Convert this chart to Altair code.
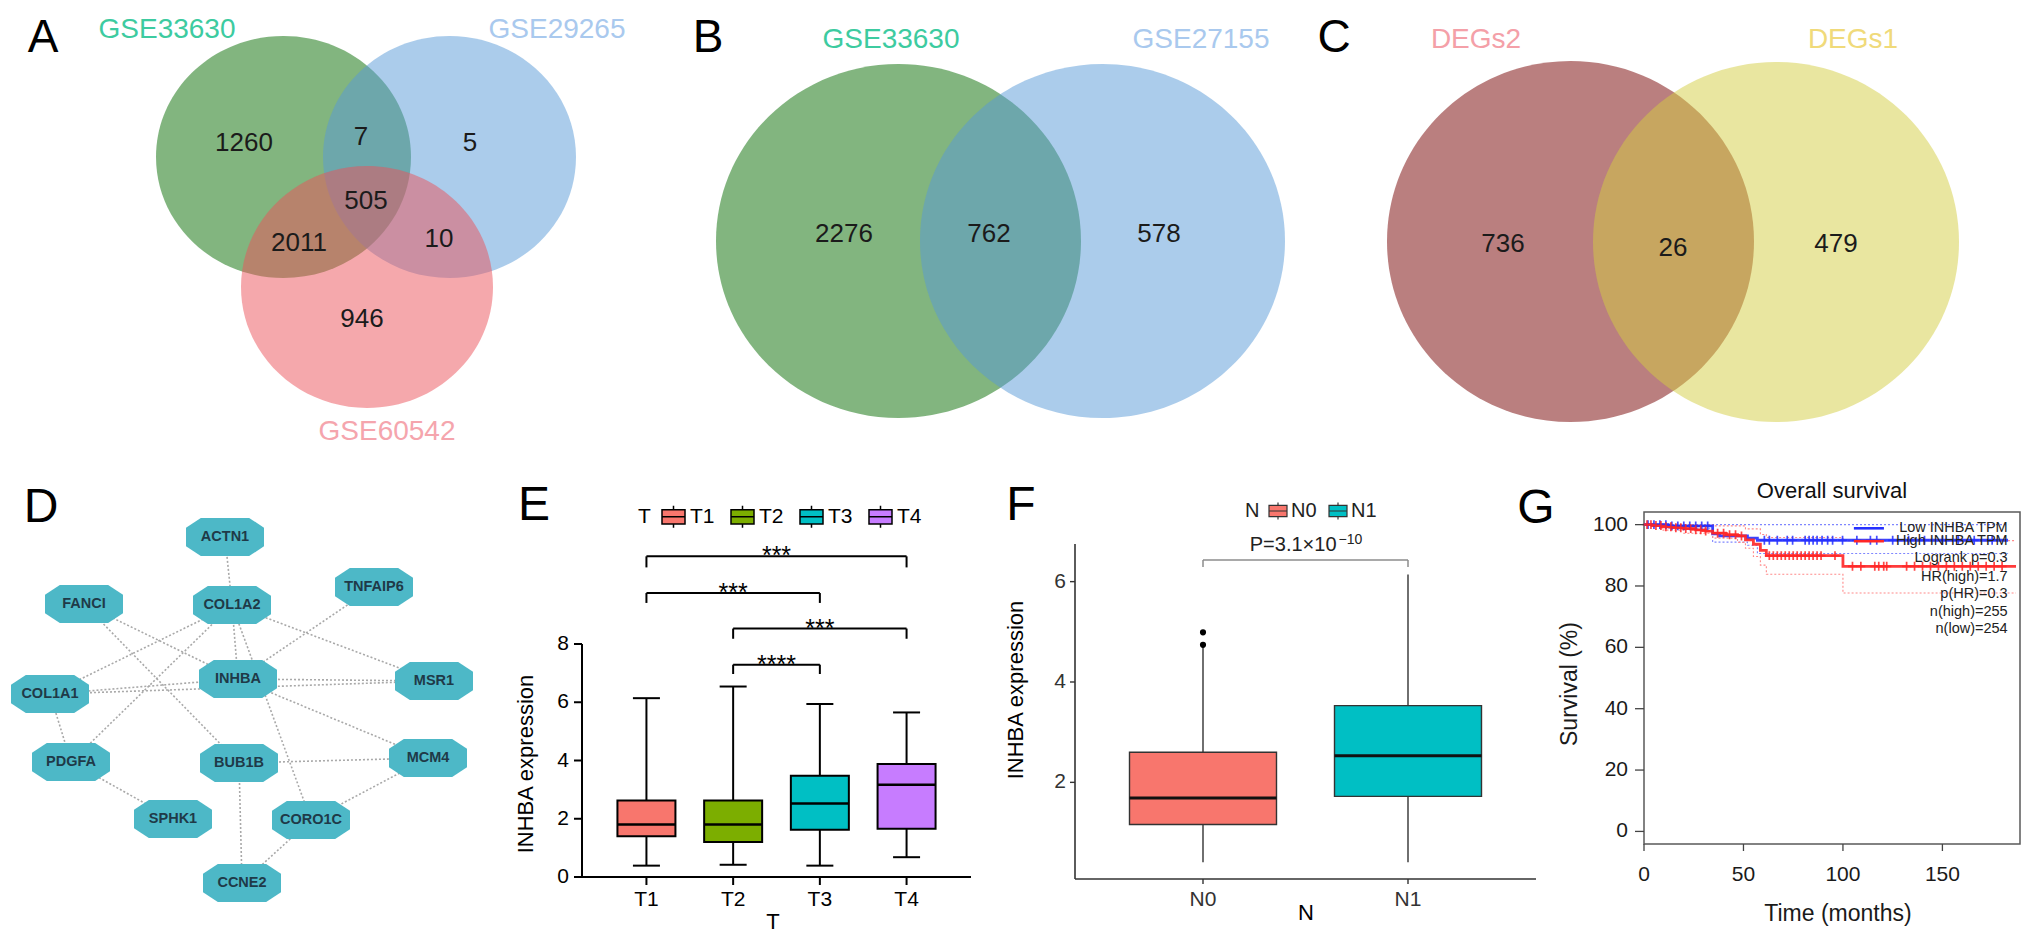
import altair as alt
import pandas as pd

FONT = "Liberation Sans"

# ======================= DATA =======================
# A: three-set Venn (regions: 33630 only, 33630&29265, 29265 only, all three,
#    33630&60542, 29265&60542, 60542 only)
A_sets = ["GSE33630", "GSE29265", "GSE60542"]
A_counts = [1260, 7, 5, 505, 2011, 10, 946]
# B: two-set Venn (left only, both, right only)
B_sets = ["GSE33630", "GSE27155"]
B_counts = [2276, 762, 578]
# C: two-set Venn
C_sets = ["DEGs2", "DEGs1"]
C_counts = [736, 26, 479]

# D: PPI network
D_genes = ["ACTN1", "TNFAIP6", "FANCI", "COL1A2", "INHBA", "MSR1", "COL1A1",
           "PDGFA", "BUB1B", "MCM4", "SPHK1", "CORO1C", "CCNE2"]
D_edge_a = ["ACTN1", "FANCI", "FANCI", "COL1A2", "COL1A2", "COL1A2", "COL1A2", "COL1A2",
            "TNFAIP6", "INHBA", "INHBA", "INHBA", "COL1A1", "PDGFA", "BUB1B", "BUB1B",
            "MCM4", "CORO1C", "COL1A1"]
D_edge_b = ["COL1A2", "INHBA", "BUB1B", "COL1A1", "PDGFA", "INHBA", "CORO1C", "MSR1",
            "INHBA", "COL1A1", "MSR1", "MCM4", "PDGFA", "SPHK1", "MCM4", "CCNE2",
            "CORO1C", "CCNE2", "MSR1"]

# E: INHBA expression by T stage (box statistics)
E_groups = ["T1", "T2", "T3", "T4"]
E_lower = [0.39, 0.42, 0.39, 0.68]
E_q1 = [1.40, 1.20, 1.62, 1.66]
E_median = [1.80, 1.80, 2.52, 3.17]
E_q3 = [2.63, 2.63, 3.48, 3.88]
E_upper = [6.14, 6.54, 5.94, 5.65]
E_colors = ["#F8766D", "#7CAE00", "#00BFC4", "#C77CFF"]
E_cmp_a = ["T1", "T1", "T2", "T2"]
E_cmp_b = ["T4", "T3", "T4", "T3"]
E_cmp_label = ["***", "***", "***", "****"]
E_cmp_top = [11.01, 9.75, 8.53, 7.29]
E_cmp_leg = [10.63, 9.41, 8.18, 6.97]
E_yticks = [0, 2, 4, 6, 8]

# F: INHBA expression by N stage
F_groups = ["N0", "N1"]
F_lower = [0.41, 0.41]
F_q1 = [1.16, 1.72]
F_median = [1.69, 2.53]
F_q3 = [2.60, 3.53]
F_upper = [4.69, 6.14]
F_colors = ["#F8766D", "#00BFC4"]
F_out_group = ["N0", "N0"]
F_out_value = [4.74, 4.99]
F_cmp_top = 6.43
F_cmp_leg = 6.29
F_p_text = "P=3.1×10"
F_p_exp = "−10"
F_p_y = 6.74
F_yticks = [2, 4, 6]

# G: Kaplan-Meier overall survival
G_low_t = [0, 12, 34.5, 38, 52, 57, 183]
G_low_s = [100, 99.6, 97.0, 96.3, 95.6, 94.9, 94.9]
G_high_t = [0, 4, 9, 14, 20, 26, 31, 34.5, 41, 47, 51, 55, 58.5, 61.5, 100, 187]
G_high_s = [100, 99.7, 99.3, 99.0, 98.7, 98.3, 97.9, 97.2, 96.7, 96.3, 95.0, 93.6, 91.6, 89.9, 86.4, 86.4]
G_low_lo_t = [0, 12, 34.5, 52, 57, 183]
G_low_lo_s = [100, 98.8, 94.3, 93.3, 90.6, 90.6]
G_low_hi_t = [0, 183]
G_low_hi_s = [100, 100]
G_high_lo_t = [0, 9, 20, 34.5, 47, 51, 55, 58.5, 61.5, 100, 187]
G_high_lo_s = [100, 98.2, 97.2, 95.6, 94.2, 92.3, 89.6, 86.8, 83.8, 77.7, 77.7]
G_high_hi_t = [0, 34.5, 51, 58.5, 61.5, 100, 187]
G_high_hi_s = [100, 99.6, 98.6, 96.8, 95.8, 94.8, 94.8]
G_low_cens = [2, 5, 8, 11, 14, 17, 20, 23, 26, 29, 32, 60.5, 63, 67, 72, 74.7, 81, 83, 85,
              87, 89.5, 92.3, 94.8, 99.8, 107, 113.8, 117, 125, 133, 141, 150, 158, 166, 175]
G_high_cens = [1.5, 3.5, 6, 8.5, 11, 13.5, 16, 18.5, 21, 23.5, 26, 28.5, 31, 37, 40, 43, 46,
               49, 63, 65, 67, 69, 71, 73, 75, 77, 79, 81, 83, 85, 87, 89, 96, 104.8, 109,
               116, 118, 120.5, 122, 132, 136, 140, 144, 148, 152, 156, 160, 164, 168, 172,
               176, 180]
G_series = ["Low INHBA TPM", "High INHBA TPM"]
G_stats = ["Logrank p=0.3", "HR(high)=1.7", "p(HR)=0.3", "n(high)=255", "n(low)=254"]
G_title = "Overall survival"
G_xticks = [0, 50, 100, 150]
G_yticks = [0, 20, 40, 60, 80, 100]

# ======================= LAYOUT (page pixels) =======================
# shared column boundaries for both rows (page x)
COLS = [8, 581, 970, 1074, 1535, 1643, 2019]
TOP_Y0, TOP_Y1 = 8, 448

A_cx, A_cy = [282.5, 448.5, 366], [156, 156, 286]
A_rx, A_ry = [127.5, 126.5, 126], [121, 121, 121]
A_fill = ["#056B00", "#5799D7", "#EB5159"]
A_lab_x, A_lab_y = [166, 556, 386], [29, 29, 431]
A_lab_col = ["#3DCBA0", "#A9C9EE", "#F5A5AD"]
A_cnt_x = [243, 360, 469, 365, 298, 438, 361]
A_cnt_y = [142, 136, 142, 200, 242, 238, 318]
A_letter = (42, 37)

B_cx, B_cy = [897.5, 1101.5], [240, 240]
B_rx, B_ry = [182.5, 182.5], [177, 177]
B_fill = ["#056B00", "#5799D7"]
B_lab_x, B_lab_y = [890, 1200], [39, 39]
B_lab_col = ["#3DCBA0", "#A9C9EE"]
B_cnt_x, B_cnt_y = [843, 988, 1158], [233, 233, 233]
B_letter = (707, 37)

C_cx, C_cy = [1569.5, 1775], [240.5, 241]
C_rx, C_ry = [183.5, 183], [180.5, 180]
C_fill = ["#760000", "#D3CD41"]
C_lab_x, C_lab_y = [1475, 1852], [39, 39]
C_lab_col = ["#F4A0A8", "#F0DA7A"]
C_cnt_x, C_cnt_y = [1502, 1672, 1835], [243, 247, 243]
C_letter = (1333, 37)
TOP_LETTER_SIZE = 46

D_y = (448, 936)
D_node_x = [224, 373, 83, 231, 237, 433, 49, 70, 238, 427, 172, 310, 241]
D_node_y = [536, 586, 603, 604, 678, 680, 693, 761, 762, 757, 818, 819, 882]
D_letter = (40, 507)

E_H, E_PX = 428, 29.125
F_H, F_PX, F_YMIN, F_YTOP = 430, 50.18, 0.074, 6.75
G_H, G_PX, G_YMIN, G_YTOP, G_XMAX = 395, 3.068, -4.1, 104.1, 189
G_title_y = 111.0
W = [COLS[i + 1] - COLS[i] for i in range(6)]
E_W, F_W, G_W = W[1], W[3], W[5]

# ======================= HELPERS =======================
def S(domain, reverse=False):
    return alt.Scale(domain=list(domain), nice=False, zero=False, reverse=reverse)


def ellipse(k):
    return f"M-1,0A1,{k:.4f} 0 1,1 1,0A1,{k:.4f} 0 1,1 -1,0Z"


OCTAGON = "M-1,-0.24L-0.62,-0.49L0.62,-0.49L1,-0.24L1,0.24L0.62,0.49L-0.62,0.49L-1,0.24Z"
BOXGLYPH = "M-1,-0.62H1V0.62H-1Z M-1,0H1 M0,-0.62V-0.95 M0,0.62V0.95"
PLUS = "M0,-1V1M-1,0H1"


def spacer(w, h):
    return alt.Chart(pd.DataFrame({"v": [0]})).mark_point(opacity=0).encode(
        x=alt.X("v:Q", axis=None), y=alt.Y("v:Q", axis=None)).properties(width=w, height=h)


def text_at(txt, x, y, size=48, color="black", angle=0):
    return alt.Chart(pd.DataFrame({"t": [txt]})).mark_text(
        font=FONT, fontSize=size, color=color, baseline="middle", align="center", angle=angle
    ).encode(x=alt.value(x), y=alt.value(y), text="t:N")


def left_axis(values, labels, ys, tick, label_x, color, width, lab_color, size=21):
    df = pd.DataFrame({"v": values, "lab": labels})
    Y = alt.Y("v:Q", scale=ys, axis=None)
    ticks = alt.Chart(df).mark_rule(color=color, strokeWidth=width).encode(
        x=alt.value(0), x2=alt.value(-tick), y=Y)
    labs = alt.Chart(df).mark_text(font=FONT, fontSize=size, color=lab_color, align="right",
                                   baseline="middle").encode(x=alt.value(label_x), y=Y, text="lab:N")
    return [ticks, labs]


def bottom_axis(values, labels, xs, h, tick, label_y, color, width, lab_color, size=21):
    df = pd.DataFrame({"v": values, "lab": labels})
    X = alt.X("v:Q", scale=xs, axis=None)
    ticks = alt.Chart(df).mark_rule(color=color, strokeWidth=width).encode(
        x=X, y=alt.value(h), y2=alt.value(h + tick))
    labs = alt.Chart(df).mark_text(font=FONT, fontSize=size, color=lab_color, align="center",
                                   baseline="top").encode(x=X, y=alt.value(label_y), text="lab:N")
    return [ticks, labs]


def venn(c0, c1, cx, cy, rx, ry, fills, names, lx, ly, lcol, counts, nx, ny, letter, lxy):
    xs, ys = S((c0, c1)), S((TOP_Y0, TOP_Y1), True)
    X = lambda f: alt.X(f, scale=xs, axis=None)
    Y = lambda f: alt.Y(f, scale=ys, axis=None)
    cdf = pd.DataFrame({"cx": cx, "cy": cy, "sz": [(2 * r) ** 2 for r in rx],
                        "shp": [ellipse(b / a) for a, b in zip(rx, ry)],
                        "fill": fills, "o": list(range(len(cx)))})
    circles = alt.Chart(cdf).mark_point(filled=True, opacity=0.5, strokeWidth=0).encode(
        x=X("cx:Q"), y=Y("cy:Q"),
        size=alt.Size("sz:Q", scale=None, legend=None),
        shape=alt.Shape("shp:N", scale=None, legend=None),
        color=alt.Color("fill:N", scale=None, legend=None),
        order=alt.Order("o:Q"))
    ldf = pd.DataFrame({"x": lx, "y": ly, "t": names, "c": lcol})
    labels = alt.Chart(ldf).mark_text(font=FONT, fontSize=28, baseline="middle").encode(
        x=X("x:Q"), y=Y("y:Q"), text="t:N", color=alt.Color("c:N", scale=None, legend=None))
    ndf = pd.DataFrame({"x": nx, "y": ny, "t": [str(c) for c in counts]})
    nums = alt.Chart(ndf).mark_text(font=FONT, fontSize=26, color="#1b1b1b", baseline="middle").encode(
        x=X("x:Q"), y=Y("y:Q"), text="t:N")
    let = alt.Chart(pd.DataFrame({"x": [lxy[0]], "y": [lxy[1]], "t": [letter]})).mark_text(
        font=FONT, fontSize=TOP_LETTER_SIZE, color="black", baseline="middle").encode(
        x=X("x:Q"), y=Y("y:Q"), text="t:N")
    return alt.layer(circles, labels, nums, let).properties(width=c1 - c0, height=TOP_Y1 - TOP_Y0)


RES = dict(color="independent", size="independent", shape="independent")

# ======================= TOP ROW =======================
A = venn(COLS[0], COLS[1], A_cx, A_cy, A_rx, A_ry, A_fill, A_sets, A_lab_x, A_lab_y, A_lab_col,
         A_counts, A_cnt_x, A_cnt_y, "A", A_letter)
B = venn(COLS[1], COLS[2], B_cx, B_cy, B_rx, B_ry, B_fill, B_sets, B_lab_x, B_lab_y, B_lab_col,
         B_counts, B_cnt_x, B_cnt_y, "B", B_letter)
C = venn(COLS[2], COLS[3], C_cx, C_cy, C_rx, C_ry, C_fill, C_sets, C_lab_x, C_lab_y, C_lab_col,
         C_counts, C_cnt_x, C_cnt_y, "C", C_letter)

# ======================= D: network =======================
xsD, ysD = S((COLS[0], COLS[1])), S(D_y, True)
pos = dict(zip(D_genes, zip(D_node_x, D_node_y)))
edf_D = pd.DataFrame({
    "x": [pos[a][0] for a in D_edge_a], "y": [pos[a][1] for a in D_edge_a],
    "x2": [pos[b][0] for b in D_edge_b], "y2": [pos[b][1] for b in D_edge_b]})
ndf_D = pd.DataFrame({"gene": D_genes, "x": D_node_x, "y": D_node_y})
XD = lambda f: alt.X(f, scale=xsD, axis=None)
YD = lambda f: alt.Y(f, scale=ysD, axis=None)
D_edges = alt.Chart(edf_D).mark_rule(color="#A9A9A9", strokeWidth=1.6, strokeDash=[2, 2]).encode(
    x=XD("x:Q"), y=YD("y:Q"), x2="x2:Q", y2="y2:Q")
D_nodes = alt.Chart(ndf_D).mark_point(shape=OCTAGON, size=78 ** 2, filled=True, color="#4DB8C7",
                                      opacity=1, strokeWidth=0).encode(x=XD("x:Q"), y=YD("y:Q"))
D_text = alt.Chart(ndf_D).mark_text(font=FONT, fontSize=14.5, fontWeight="bold", color="#1F3A48").encode(
    x=XD("x:Q"), y=YD("y:Q"), text="gene:N")
D_let = alt.Chart(pd.DataFrame({"x": [D_letter[0]], "y": [D_letter[1]], "t": ["D"]})).mark_text(
    font=FONT, fontSize=48, color="black", baseline="middle").encode(x=XD("x:Q"), y=YD("y:Q"), text="t:N")
D = alt.layer(D_edges, D_nodes, D_text, D_let).properties(width=W[0], height=D_y[1] - D_y[0])

# ======================= E: boxplot by T =======================
xsE = S((1 - 61 / 89, 1 + (E_W - 61) / 89))
ysE = S((0, E_H / E_PX))
idx = {g: i + 1 for i, g in enumerate(E_groups)}
edf = pd.DataFrame({"grp": E_groups, "pos": [idx[g] for g in E_groups], "lo": E_lower,
                    "q1": E_q1, "med": E_median, "q3": E_q3, "hi": E_upper})
E_legend = alt.Legend(title="T", orient="none", legendX=56, legendY=55, direction="horizontal",
                      titleOrient="left", symbolType=BOXGLYPH, symbolSize=529,
                      symbolStrokeColor="black", symbolStrokeWidth=1.5, symbolOpacity=1,
                      labelFont=FONT, titleFont=FONT, labelFontSize=21, titleFontSize=21,
                      titleFontWeight="normal", labelColor="black", titleColor="black",
                      columnPadding=13, labelOffset=4, titlePadding=10, titleBaseline="middle")
XE = lambda f="pos:Q": alt.X(f, scale=xsE, axis=None)
YE = lambda f: alt.Y(f, scale=ysE, axis=None)
bE = alt.Chart(edf)
E_wl = bE.mark_rule(color="black", strokeWidth=2).encode(x=XE(), y=YE("lo:Q"), y2="q1:Q")
E_wh = bE.mark_rule(color="black", strokeWidth=2).encode(x=XE(), y=YE("q3:Q"), y2="hi:Q")
E_cl = bE.mark_tick(orient="horizontal", size=27, thickness=2, color="black", opacity=1).encode(x=XE(), y=YE("lo:Q"))
E_ch = bE.mark_tick(orient="horizontal", size=27, thickness=2, color="black", opacity=1).encode(x=XE(), y=YE("hi:Q"))
E_box = bE.mark_bar(size=58, stroke="black", strokeWidth=2, opacity=1).encode(
    x=XE(), y=YE("q1:Q"), y2="q3:Q",
    color=alt.Color("grp:N", scale=alt.Scale(domain=E_groups, range=E_colors), legend=E_legend))
E_med = bE.mark_tick(orient="horizontal", size=58, thickness=2.5, color="black", opacity=1).encode(
    x=XE(), y=YE("med:Q"))
brdf = pd.DataFrame({"x1": [idx[a] for a in E_cmp_a], "x2": [idx[b] for b in E_cmp_b],
                     "top": E_cmp_top, "leg": E_cmp_leg, "lab": E_cmp_label})
brdf["mid"] = (brdf["x1"] + brdf["x2"]) / 2
bB = alt.Chart(brdf)
E_bh = bB.mark_rule(color="black", strokeWidth=2).encode(x=XE("x1:Q"), x2="x2:Q", y=YE("top:Q"))
E_bl = bB.mark_rule(color="black", strokeWidth=2).encode(x=XE("x1:Q"), y=YE("leg:Q"), y2="top:Q")
E_br = bB.mark_rule(color="black", strokeWidth=2).encode(x=XE("x2:Q"), y=YE("leg:Q"), y2="top:Q")
E_st = bB.mark_text(font=FONT, fontSize=25, color="black", baseline="alphabetic", dy=8).encode(
    x=XE("mid:Q"), y=YE("top:Q"), text="lab:N")
E_ax = pd.DataFrame({"a": [E_yticks[0]], "b": [E_yticks[-1]]})
E_yline = alt.Chart(E_ax).mark_rule(color="black", strokeWidth=2).encode(x=alt.value(0), y=YE("a:Q"), y2="b:Q")
E_xline = alt.Chart(E_ax).mark_rule(color="black", strokeWidth=2).encode(x=alt.value(0), x2=alt.value(E_W), y=YE("a:Q"))
E_axes = (left_axis(E_yticks, [str(v) for v in E_yticks], ysE, 8, -13, "black", 2, "black")
          + bottom_axis([1, 2, 3, 4], E_groups, xsE, E_H, 8, E_H + 12, "black", 2, "black"))
E = alt.layer(E_wl, E_wh, E_cl, E_ch, E_box, E_med, E_bh, E_bl, E_br, E_st, E_yline, E_xline,
              *E_axes, text_at("INHBA expression", -56, 315, 22, "black", 270),
              text_at("T", 191, 473, 22, "black"),
              text_at("E", -48, 57)).properties(width=E_W, height=E_H)

# ======================= F: boxplot by N =======================
xsF = S((0.4, 2.6))
ysF = S((F_YMIN, F_YMIN + F_H / F_PX))
fidx = {g: i + 1 for i, g in enumerate(F_groups)}
fdf = pd.DataFrame({"grp": F_groups, "pos": [fidx[g] for g in F_groups], "lo": F_lower,
                    "q1": F_q1, "med": F_median, "q3": F_q3, "hi": F_upper})
F_legend = alt.Legend(title="N", orient="none", legendX=170, legendY=52, direction="horizontal",
                      titleOrient="left", symbolType=BOXGLYPH, symbolSize=324,
                      symbolStrokeColor="#333333", symbolStrokeWidth=1.2, symbolOpacity=1,
                      labelFont=FONT, titleFont=FONT, labelFontSize=20, titleFontSize=20,
                      titleFontWeight="normal", labelColor="#222222", titleColor="#222222",
                      columnPadding=9, labelOffset=3, titlePadding=8, titleBaseline="middle")
XF = lambda f="pos:Q": alt.X(f, scale=xsF, axis=None)
YF = lambda f: alt.Y(f, scale=ysF, axis=None)
bF = alt.Chart(fdf)
F_w = bF.mark_rule(color="#333333", strokeWidth=1.4).encode(x=XF(), y=YF("lo:Q"), y2="hi:Q")
F_box = bF.mark_bar(size=147, stroke="#333333", strokeWidth=1.4, opacity=1).encode(
    x=XF(), y=YF("q1:Q"), y2="q3:Q",
    color=alt.Color("grp:N", scale=alt.Scale(domain=F_groups, range=F_colors), legend=F_legend))
F_med = bF.mark_tick(orient="horizontal", size=147, thickness=3, color="#111111", opacity=1).encode(
    x=XF(), y=YF("med:Q"))
odf = pd.DataFrame({"pos": [fidx[g] for g in F_out_group], "v": F_out_value})
F_out = alt.Chart(odf).mark_circle(size=38, color="black", opacity=1).encode(x=XF(), y=YF("v:Q"))
fbr = pd.DataFrame({"x1": [1], "x2": [2], "top": [F_cmp_top], "leg": [F_cmp_leg],
                    "mid": [1.5], "py": [F_p_y], "t": [F_p_text], "e": [F_p_exp],
                    "a0": [F_YMIN], "a1": [F_YTOP]})
bFB = alt.Chart(fbr)
F_bh = bFB.mark_rule(color="#8c8c8c", strokeWidth=1.5).encode(x=XF("x1:Q"), x2="x2:Q", y=YF("top:Q"))
F_bl = bFB.mark_rule(color="#8c8c8c", strokeWidth=1.5).encode(x=XF("x1:Q"), y=YF("leg:Q"), y2="top:Q")
F_br = bFB.mark_rule(color="#8c8c8c", strokeWidth=1.5).encode(x=XF("x2:Q"), y=YF("leg:Q"), y2="top:Q")
F_pt = bFB.mark_text(font=FONT, fontSize=20, color="#222222", align="right", baseline="middle", dx=31).encode(
    x=XF("mid:Q"), y=YF("py:Q"), text="t:N")
F_pe = bFB.mark_text(font=FONT, fontSize=14, color="#222222", align="left", baseline="middle", dx=33, dy=-5).encode(
    x=XF("mid:Q"), y=YF("py:Q"), text="e:N")
F_yline = bFB.mark_rule(color="#333333", strokeWidth=1.6).encode(x=alt.value(0), y=YF("a0:Q"), y2="a1:Q")
F_xline = bFB.mark_rule(color="#333333", strokeWidth=1.6).encode(x=alt.value(0), x2=alt.value(F_W), y=YF("a0:Q"))
F_axes = (left_axis(F_yticks, [str(v) for v in F_yticks], ysF, 5, -9, "#333333", 1.4, "#333333")
          + bottom_axis([1, 2], F_groups, xsF, F_H, 5, F_H + 10, "#333333", 1.4, "#333333"))
F = alt.layer(F_w, F_box, F_med, F_out, F_bh, F_bl, F_br, F_pt, F_pe, F_yline, F_xline, *F_axes,
              text_at("INHBA expression", -59, 241, 22, "black", 270),
              text_at("N", 231, 464, 22, "black"),
              text_at("F", -54, 57)).properties(width=F_W, height=F_H)

# ======================= G: Kaplan-Meier =======================
xsG = S((0, G_XMAX))
ysG = S((G_YMIN, G_YMIN + G_H / G_PX))


def surv_at(t, ts, ss):
    v = ss[0]
    for ti, si in zip(ts, ss):
        if ti <= t:
            v = si
    return v


BLUE, RED = "#2530FF", "#FF2626"
XG = lambda f="t:Q": alt.X(f, scale=xsG, axis=None)
YG = lambda f="s:Q": alt.Y(f, scale=ysG, axis=None)


def km_line(ts, ss, color, width, dash=None, opacity=1):
    df = pd.DataFrame({"t": ts, "s": ss})
    kw = dict(color=color, strokeWidth=width, interpolate="step-after", opacity=opacity)
    if dash:
        kw["strokeDash"] = dash
    return alt.Chart(df).mark_line(**kw).encode(x=XG(), y=YG())


gfr = pd.DataFrame({"t": [0], "t2": [G_XMAX], "s": [G_YMIN], "s2": [G_YTOP]})
G_frame = alt.Chart(gfr).mark_rect(fillOpacity=0, stroke="#5a5a5a", strokeWidth=1.5).encode(
    x=XG("t:Q"), x2="t2:Q", y=YG("s:Q"), y2="s2:Q")
G_ci = [km_line(G_low_hi_t, G_low_hi_s, "#7F86FF", 1.1, [2, 2]),
        km_line(G_low_lo_t, G_low_lo_s, "#7F86FF", 1.1, [2, 2]),
        km_line(G_high_hi_t, G_high_hi_s, "#FF8A8A", 1.1, [2, 2]),
        km_line(G_high_lo_t, G_high_lo_s, "#FF8A8A", 1.1, [2, 2])]
G_lo = km_line(G_low_t, G_low_s, BLUE, 2.8, opacity=0.9)
G_hi = km_line(G_high_t, G_high_s, RED, 2.8, opacity=0.9)
cl = pd.DataFrame({"t": G_low_cens, "s": [surv_at(t, G_low_t, G_low_s) for t in G_low_cens]})
ch = pd.DataFrame({"t": G_high_cens, "s": [surv_at(t, G_high_t, G_high_s) for t in G_high_cens]})
G_cl = alt.Chart(cl).mark_point(shape=PLUS, size=80, filled=False, color=BLUE, strokeWidth=1.7, opacity=0.85).encode(x=XG(), y=YG())
G_ch = alt.Chart(ch).mark_point(shape=PLUS, size=80, filled=False, color=RED, strokeWidth=1.7, opacity=0.85).encode(x=XG(), y=YG())
leg_y = [98.8, 94.6, 89.1, 82.9, 77.4, 71.5, 66.0]
leg_t0, leg_t1, leg_tx = 105.5, 120.6, 182.8
lgl = pd.DataFrame({"t": [leg_t0, leg_t1, leg_t0, leg_t1], "s": [leg_y[0]] * 2 + [leg_y[1]] * 2,
                    "series": [G_series[0]] * 2 + [G_series[1]] * 2})
G_leglines = alt.Chart(lgl).mark_line(strokeWidth=2.6).encode(
    x=XG(), y=YG(), color=alt.Color("series:N", scale=alt.Scale(domain=G_series, range=[BLUE, RED]), legend=None))
ltxt = pd.DataFrame({"t": [leg_tx] * 7, "s": leg_y, "txt": G_series + G_stats})
G_legtext = alt.Chart(ltxt).mark_text(font=FONT, fontSize=14.5, color="#222222", align="right", baseline="middle").encode(
    x=XG(), y=YG(), text="txt:N")
G_tt = alt.Chart(pd.DataFrame({"t": [G_XMAX / 2], "s": [G_title_y], "txt": [G_title]})).mark_text(
    font=FONT, fontSize=22, color="#111111", baseline="middle").encode(x=XG(), y=YG(), text="txt:N")
G_axes = (left_axis(G_yticks, [str(v) for v in G_yticks], ysG, 9, -16, "#444444", 1.3, "#1a1a1a")
          + bottom_axis(G_xticks, [str(v) for v in G_xticks], xsG, G_H, 7, G_H + 20, "#444444", 1.3, "#1a1a1a"))
G = alt.layer(G_frame, *G_ci, G_lo, G_hi, G_cl, G_ch, G_leglines, G_legtext, G_tt, *G_axes,
              text_at("Survival (%)", -74, 235, 23, "#1a1a1a", 270),
              text_at("Time (months)", 194, 465, 23, "#1a1a1a"),
              text_at("G", -108, 60)).properties(width=G_W, height=G_H)

# ======================= ASSEMBLY =======================
chart = alt.concat(
    A, B, C, spacer(W[3], 440), spacer(W[4], 440), spacer(W[5], 440),
    D, E, spacer(W[2], 10), F, spacer(W[4], 10), G,
    columns=6, spacing=0, bounds="flush"
).resolve_scale(**RES).properties(padding=0, background="white"
).configure_view(stroke="transparent")

chart.save("out.html", embed_options={"renderer": "svg", "actions": False})
